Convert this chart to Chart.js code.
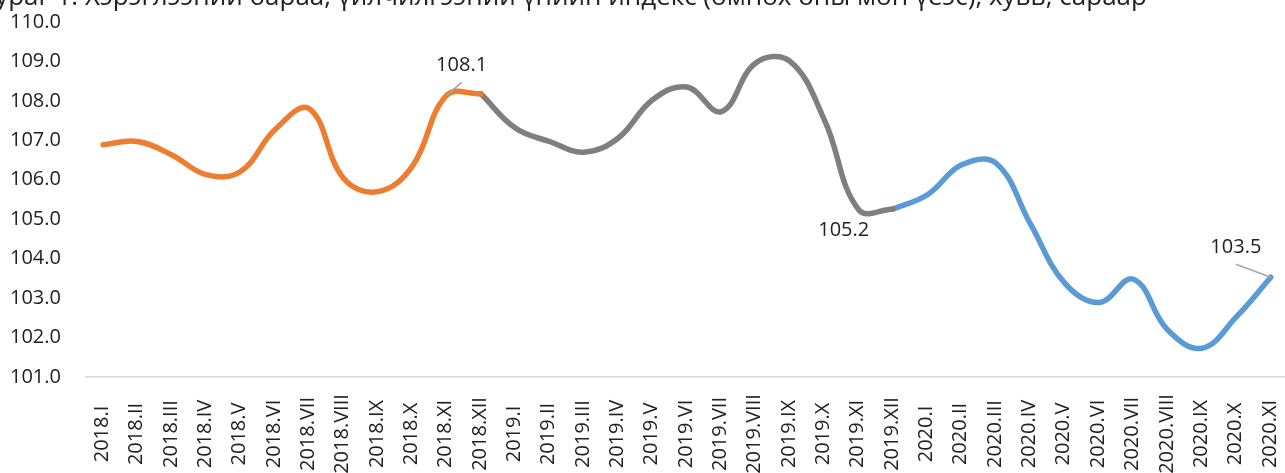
<!DOCTYPE html>
<html>
<head>
<meta charset="utf-8">
<script src="https://cdn.jsdelivr.net/npm/chart.js@4"></script>
<style>
    html, body { margin: 0; padding: 0; background: #fff; overflow: hidden; }
    #wrap { position: relative; width: 1290px; height: 473px; }
    #title {
        position: absolute; left: -20px; top: -23px; white-space: nowrap;
        font-family: "Open Sans", sans-serif; font-size: 26px; color: #222;
    }
</style>
</head>
<body>
<div id="wrap">
    <canvas id="chartCpi"></canvas>
    <div id="title">Зураг 1. Хэрэглээний бараа, үйлчилгээний үнийн индекс (өмнөх оны мөн үеэс), хувь, сараар</div>
</div>
<script>
const months = [
    "2018.I", "2018.II", "2018.III", "2018.IV", "2018.V", "2018.VI",
    "2018.VII", "2018.VIII", "2018.IX", "2018.X", "2018.XI", "2018.XII",
    "2019.I", "2019.II", "2019.III", "2019.IV", "2019.V", "2019.VI",
    "2019.VII", "2019.VIII", "2019.IX", "2019.X", "2019.XI", "2019.XII",
    "2020.I", "2020.II", "2020.III", "2020.IV", "2020.V", "2020.VI",
    "2020.VII", "2020.VIII", "2020.IX", "2020.X", "2020.XI",
];
const cpi2018 = [106.89, 106.97, 106.63, 106.13, 106.21, 107.27, 107.8, 106.04, 105.7, 106.34, 108.14, 108.18];
const cpi2019 = [107.31, 106.97, 106.7, 107.06, 108.03, 108.35, 107.73, 108.96, 109.0, 107.52, 105.24, 105.26];
const cpi2020 = [105.62, 106.38, 106.42, 104.88, 103.38, 102.89, 103.48, 102.19, 101.73, 102.53, 103.53];
const yTicks = [101, 102, 103, 104, 105, 106, 107, 108, 109, 110];
// labelled points: [index, dx, dy, leader line] offsets of the text from the point
const callouts = [
    [10, 15, -30, true],
    [22, -15, 21, false],
    [34, -35, -30, true],
];

const n = months.length;
const pad = (arr, start) => {
    const out = new Array(n).fill(null);
    arr.forEach((v, i) => { out[start + i] = v; });
    return out;
};
const series = [
    pad(cpi2018, 0),
    pad([cpi2018[11]].concat(cpi2019), 11),
    pad([cpi2019[11]].concat(cpi2020), 23),
];
const allValues = cpi2018.concat(cpi2019, cpi2020);
const colors = ["#ED7D31", "#7F7F7F", "#5B9BD5"];
const font = "Open Sans";

const extras = {
    id: "extras",
    afterDraw(chart) {
        const ctx = chart.ctx;
        const x = chart.scales.x;
        const y = chart.scales.y;
        ctx.save();
        ctx.fillStyle = "#222";
        ctx.font = "20px '" + font + "'";
        ctx.textAlign = "center";
        ctx.textBaseline = "middle";
        // x labels, rotated and centered like the original
        months.forEach((m, i) => {
            ctx.save();
            ctx.translate(x.getPixelForValue(i) - 1, 434);
            ctx.rotate(-Math.PI / 2);
            ctx.fillText(m, 0, 0);
            ctx.restore();
        });
        // data labels
        callouts.forEach(([i, dx, dy, leader]) => {
            const px = x.getPixelForValue(i);
            const py = y.getPixelForValue(allValues[i]);
            if (leader) {
                ctx.strokeStyle = "#A6A6A6";
                ctx.lineWidth = 1.5;
                ctx.beginPath();
                ctx.moveTo(px, py);
                ctx.lineTo(px + dx, py + dy + 17);
                ctx.stroke();
            }
            ctx.fillText(allValues[i].toFixed(1), px + dx, py + dy);
        });
        ctx.restore();
    },
};

new Chart(document.getElementById("chartCpi"), {
    type: "line",
    data: {
        labels: months,
        datasets: series.map((data, k) => ({
            data: data,
            borderColor: colors[k],
            borderWidth: 5.5,
            tension: 0.4,
            pointRadius: 0,
            borderCapStyle: "round",
            borderJoinStyle: "round",
            spanGaps: false,
        })),
    },
    options: {
        responsive: true,
        maintainAspectRatio: false,
        animation: false,
        layout: { padding: { top: 22, bottom: 96, right: 2, left: 10 } },
        plugins: { legend: { display: false }, tooltip: { enabled: false } },
        scales: {
            x: {
                offset: true,
                grid: { display: false, drawTicks: false },
                border: { display: true, color: "#D9D9D9", width: 1.5 },
                ticks: { display: false },
            },
            y: {
                min: 101,
                max: 110,
                afterFit: (s) => { s.width = 76; },
                afterBuildTicks: (s) => { s.ticks = yTicks.map((v) => ({ value: v })); },
                grid: { display: false, drawTicks: false },
                border: { display: false },
                ticks: {
                    padding: 0,
                    crossAlign: "far",
                    color: "#222",
                    font: { family: font, size: 20 },
                    callback: (v) => v.toFixed(1),
                },
            },
        },
    },
    plugins: [extras],
});
</script>
</body>
</html>
